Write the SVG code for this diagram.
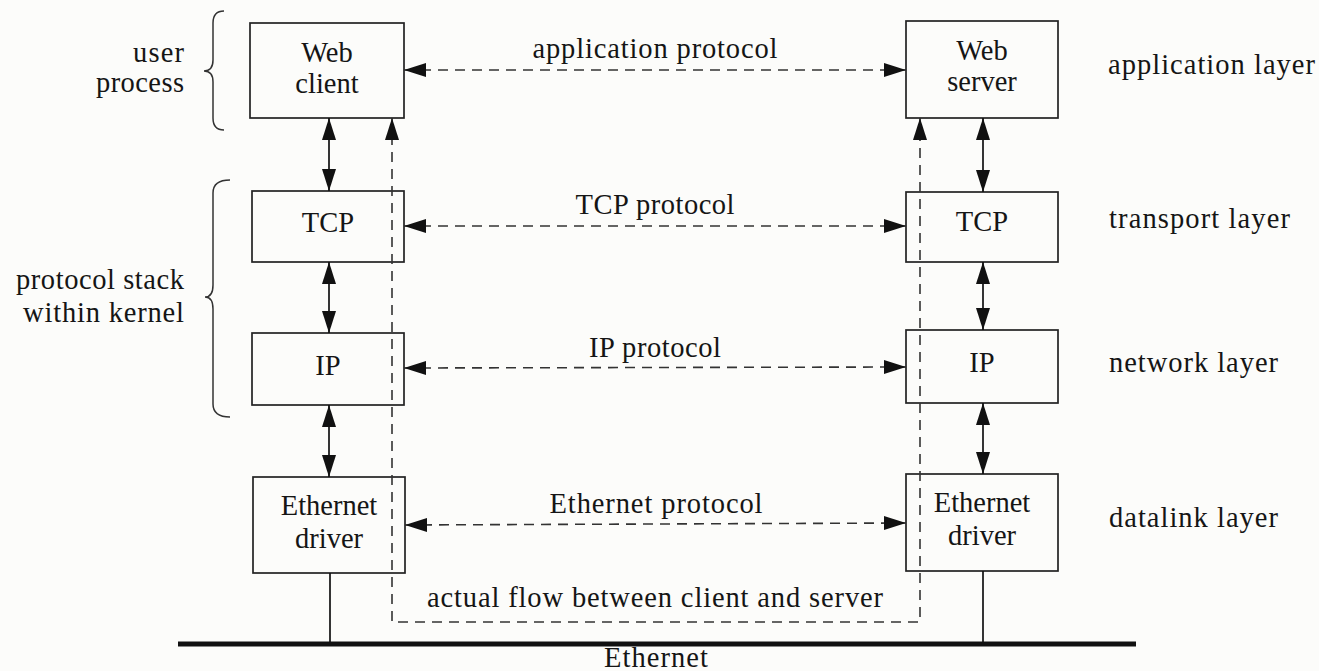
<svg xmlns="http://www.w3.org/2000/svg" width="1319" height="671" viewBox="0 0 1319 671">
<defs>
<marker id="ah" markerUnits="userSpaceOnUse" markerWidth="22" markerHeight="15" refX="22" refY="7.5" orient="auto-start-reverse" viewBox="0 0 22 15">
<path d="M0,0.5 L22,7.5 L0,14.5 z" fill="#111"/>
</marker>
<style>
.box{fill:none;stroke:#222;stroke-width:1.7}
.t{font-family:"Liberation Serif","Times New Roman",serif;font-size:28.5px;fill:#151515}
.m{text-anchor:middle}
.e{text-anchor:end}
.solid{stroke:#111;stroke-width:1.7;fill:none}
.arr{marker-start:url(#ah);marker-end:url(#ah)}
.dash{stroke:#333;stroke-width:1.6;fill:none;stroke-dasharray:10 7}
.brace{fill:none;stroke:#333;stroke-width:1.5}
</style>
</defs>
<rect width="1319" height="671" fill="#fcfcfa"/>

<g id="labels-left">
<path class="brace" d="M224,11 Q213,11 213,23 L213,60 Q213,71 204,71 Q213,71 213,82 L213,118 Q213,130 224,130"/>
<text class="t e" x="184" y="62" textLength="51">user</text>
<text class="t e" x="184" y="92" textLength="88">process</text>
<path class="brace" d="M230,180 Q213,180 213,193 L213,285 Q213,297 205,297 Q213,297 213,309 L213,404 Q213,417 230,417"/>
<text class="t e" x="184" y="289" textLength="168">protocol stack</text>
<text class="t e" x="184" y="322" textLength="161">within kernel</text>
</g>

<g id="labels-right">
<text class="t" x="1108" y="74" textLength="207">application layer</text>
<text class="t" x="1109" y="228" textLength="181">transport layer</text>
<text class="t" x="1109" y="372" textLength="169">network layer</text>
<text class="t" x="1109" y="527" textLength="169">datalink layer</text>
</g>

<g id="web-client">
<rect class="box" x="250" y="23" width="154" height="95"/>
<text class="t m" x="327" y="62">Web</text>
<text class="t m" x="327" y="93">client</text>
</g>
<g id="tcp-client">
<rect class="box" x="252" y="191" width="152" height="71"/>
<text class="t m" x="328" y="232">TCP</text>
</g>
<g id="ip-client">
<rect class="box" x="252" y="333" width="152" height="72"/>
<text class="t m" x="328" y="375">IP</text>
</g>
<g id="eth-client">
<rect class="box" x="253" y="477" width="152" height="96"/>
<text class="t m" x="329" y="515">Ethernet</text>
<text class="t m" x="329" y="548">driver</text>
</g>

<g id="web-server">
<rect class="box" x="906" y="21" width="152" height="97"/>
<text class="t m" x="982" y="60">Web</text>
<text class="t m" x="982" y="91">server</text>
</g>
<g id="tcp-server">
<rect class="box" x="906" y="192" width="152" height="70"/>
<text class="t m" x="982" y="231">TCP</text>
</g>
<g id="ip-server">
<rect class="box" x="906" y="330" width="152" height="73"/>
<text class="t m" x="982" y="372">IP</text>
</g>
<g id="eth-server">
<rect class="box" x="906" y="474" width="152" height="97"/>
<text class="t m" x="982" y="512">Ethernet</text>
<text class="t m" x="982" y="545">driver</text>
</g>

<g id="ethernet">
<line x1="178" y1="644" x2="1136" y2="644" stroke="#111" stroke-width="5"/>
<text class="t m" x="656" y="667" textLength="104">Ethernet</text>
</g>

<g id="connectors">
<line class="solid arr" x1="329" y1="118" x2="329" y2="191"/>
<line class="solid arr" x1="329" y1="262" x2="329" y2="333"/>
<line class="solid arr" x1="329" y1="405" x2="329" y2="477"/>
<line class="solid arr" x1="983" y1="118" x2="983" y2="192"/>
<line class="solid arr" x1="983" y1="262" x2="983" y2="330"/>
<line class="solid arr" x1="983" y1="403" x2="983" y2="474"/>
<line class="solid" x1="330" y1="573" x2="330" y2="644"/>
<line class="solid" x1="983" y1="571" x2="983" y2="644"/>

<line class="dash arr" x1="404" y1="70" x2="906" y2="70"/>
<text class="t m" x="655" y="58" textLength="245">application protocol</text>
<line class="dash arr" x1="404" y1="226" x2="906" y2="226"/>
<text class="t m" x="655" y="214" textLength="159">TCP protocol</text>
<line class="dash arr" x1="404" y1="368" x2="906" y2="367"/>
<text class="t m" x="655" y="357" textLength="132">IP protocol</text>
<line class="dash arr" x1="405" y1="525" x2="906" y2="523"/>
<text class="t m" x="656" y="513" textLength="213">Ethernet protocol</text>

<path class="dash arr" d="M392,118 L392,622 L920,622 L920,118"/>
<text class="t m" x="655" y="607" textLength="456">actual flow between client and server</text>
</g>
</svg>
